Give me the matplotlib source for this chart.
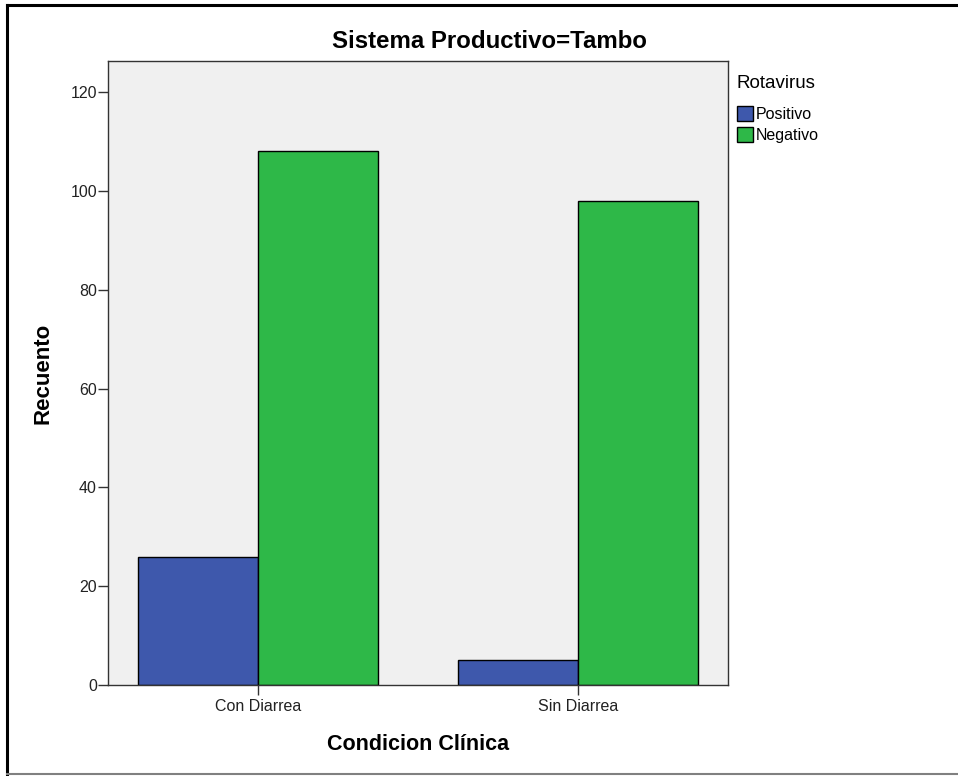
import matplotlib.pyplot as plt
import numpy as np
from matplotlib.lines import Line2D

categories = ["Con Diarrea", "Sin Diarrea"]
positivo = [26, 5]
negativo = [108, 98]
series_names = ["Positivo", "Negativo"]
colors = ["#3E58AC", "#2EB848"]

plt.rcParams['font.family'] = ['Liberation Sans', 'DejaVu Sans']

fig = plt.figure(figsize=(9.58, 7.76), dpi=100)
W, H = 958, 776
ax = fig.add_axes([108 / W, 1 - 685 / H, 620 / W, 624 / H])
ax.set_facecolor("#F0F0F0")

x = np.arange(len(categories))
w = 0.375
ax.bar(x - w / 2, positivo, w, color=colors[0], edgecolor="black", linewidth=1, label=series_names[0])
ax.bar(x + w / 2, negativo, w, color=colors[1], edgecolor="black", linewidth=1, label=series_names[1])

ax.set_xlim(-0.469, 1.469)
ax.set_ylim(0, 126.3)
ax.set_yticks([0, 20, 40, 60, 80, 100, 120])
ax.set_xticks(x)
ax.set_xticklabels(categories)
ax.tick_params(axis='y', length=7.5, width=1, labelsize=11.5, color="#333333", labelcolor="#222222", pad=0.5)
ax.tick_params(axis='x', length=7.3, width=1, labelsize=11.5, color="#333333", labelcolor="#222222", pad=3)
for s in ax.spines.values():
    s.set_color("#333333")
    s.set_linewidth(1)

fig.text(489 / W, 1 - 48 / H, "Sistema Productivo=Tambo", fontsize=17.3, fontweight="bold",
         ha="center", va="baseline")
ax.set_ylabel("Recuento", fontsize=16, fontweight="bold", labelpad=12)
ax.set_xlabel("Condicion Clínica", fontsize=15.5, fontweight="bold", labelpad=14)

leg = ax.legend(loc="upper left", bbox_to_anchor=(1.0145, 0.977), frameon=False,
                title="Rotavirus", fontsize=11.5, title_fontsize=13.5,
                handlelength=1.0, handleheight=1.0, handletextpad=0.15,
                labelspacing=0.35, borderaxespad=0, borderpad=0)
leg._legend_box.align = "left"
leg._legend_box.sep = 10

# outer frame (no right edge visible)
fig.add_artist(Line2D([7 / W, 1], [1 - 5 / H, 1 - 5 / H], transform=fig.transFigure, color="black", lw=2.2))
fig.add_artist(Line2D([7 / W, 7 / W], [1 - 5 / H, 1 - 774 / H], transform=fig.transFigure, color="black", lw=2.2))
fig.add_artist(Line2D([7 / W, 1], [1 - 774 / H, 1 - 774 / H], transform=fig.transFigure, color="#808080", lw=1.5))

fig.savefig("out.png", dpi=100)
